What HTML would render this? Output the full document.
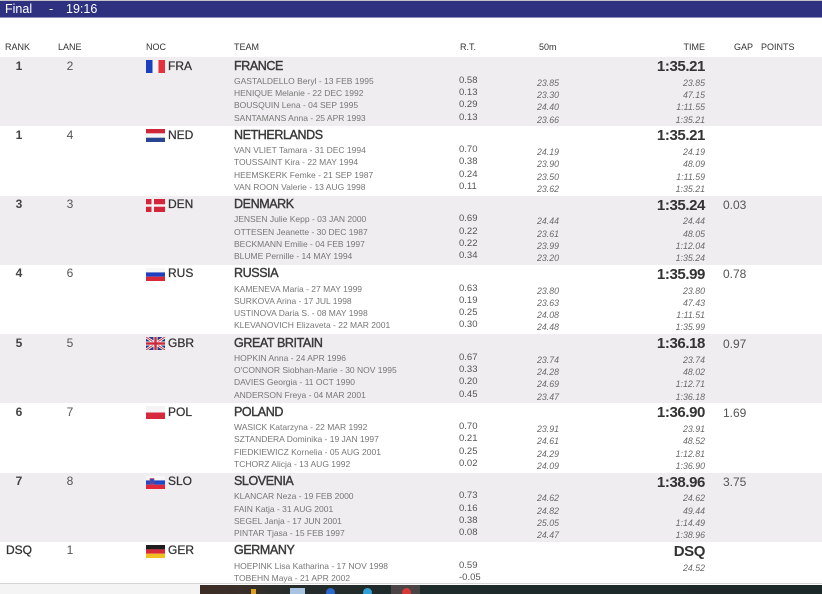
<!DOCTYPE html>
<html><head><meta charset="utf-8">
<style>
*{margin:0;padding:0;box-sizing:border-box}
html,body{width:822px;height:594px;overflow:hidden;background:#fff;font-family:"Liberation Sans",Arial,sans-serif;position:relative}
.abs{position:absolute;white-space:nowrap}
#topline{position:absolute;left:0;top:0;width:822px;height:1px;background:#c4c4c8}
#bar{position:absolute;left:0;top:1px;width:822px;height:17px;background:#2e3080;border-bottom:1px solid #8e90c4}
#bar .abs{color:#fff;font-size:12.5px;line-height:17px;top:0}
.hd{position:absolute;top:40px;line-height:14px;font-size:9px;color:#333;white-space:nowrap}
.row{position:absolute;left:0;width:822px;height:69.25px}
.g{background:#efedef}
.row div{position:absolute;white-space:nowrap}
.rk{left:5px;width:28px;text-align:center;top:1.5px;line-height:14px;font-size:12px;font-weight:bold;color:#444}
.ln{left:56px;width:28px;text-align:center;top:1.5px;line-height:14px;font-size:12px;color:#555}
.row svg{position:absolute;left:146px;top:3px}
.noc{left:168px;top:1.5px;line-height:14px;font-size:12px;color:#333;-webkit-text-stroke:0.25px #333}
.tm{left:234px;top:1.5px;line-height:14px;font-size:12.5px;color:#3a3a3a;-webkit-text-stroke:0.4px #3a3a3a;letter-spacing:-0.4px}
.t{right:117px;top:2px;line-height:16px;font-size:15px;font-weight:bold;color:#333;letter-spacing:-0.4px;text-align:right}
.gp{left:723px;top:2.5px;line-height:14px;font-size:12px;color:#555}
.m{left:234px;top:17.85px;line-height:12.3px;font-size:8.5px;color:#777}
.rt{left:459px;top:17.85px;line-height:12.3px;font-size:9.5px;color:#555}
.sp{left:537px;top:19.85px;line-height:12.3px;font-size:8.8px;font-style:italic;color:#6a6a6a}
.cu{right:117px;top:19.85px;line-height:12.3px;font-size:8.8px;font-style:italic;color:#6a6a6a;text-align:right}
#botline{position:absolute;left:0;top:583px;width:822px;height:1px;background:#d6d6d6}
#botleft{position:absolute;left:0;top:584px;width:200px;height:10px;background:#f4f4f4}
#task{position:absolute;left:200px;top:585px;width:622px;height:9px;background:linear-gradient(to right,#3c2e26 0,#3a2f29 40px,#252c2b 90px,#1f2a2a 200px,#1d2828 100%)}
</style></head><body>
<div id="topline"></div>
<div id="bar">
  <div class="abs" style="left:5px">Final</div>
  <div class="abs" style="left:49px">-</div>
  <div class="abs" style="left:66px">19:16</div>
</div>

<div class="hd" style="left:5px">RANK</div>
<div class="hd" style="left:58px">LANE</div>
<div class="hd" style="left:146px">NOC</div>
<div class="hd" style="left:234px">TEAM</div>
<div class="hd" style="left:460px">R.T.</div>
<div class="hd" style="left:539px">50m</div>
<div class="hd" style="right:117px">TIME</div>
<div class="hd" style="left:734px">GAP</div>
<div class="hd" style="left:761px">POINTS</div>

<!-- FRANCE -->
<div class="row g" style="top:57px">
  <div class="rk">1</div><div class="ln">2</div>
  <svg width="19" height="13"><rect width="6.5" height="13" fill="#1c3fc0"/><rect x="6.5" width="6" height="13" fill="#f4f4f6"/><rect x="12.5" width="6.5" height="13" fill="#e6303c"/></svg>
  <div class="noc">FRA</div>
  <div class="tm">FRANCE</div>
  <div class="t">1:35.21</div>
  <div class="m">GASTALDELLO Beryl - 13 FEB 1995<br>HENIQUE Melanie - 22 DEC 1992<br>BOUSQUIN Lena - 04 SEP 1995<br>SANTAMANS Anna - 25 APR 1993</div>
  <div class="rt">0.58<br>0.13<br>0.29<br>0.13</div>
  <div class="sp">23.85<br>23.30<br>24.40<br>23.66</div>
  <div class="cu">23.85<br>47.15<br>1:11.55<br>1:35.21</div>
</div>

<!-- NETHERLANDS -->
<div class="row" style="top:126.25px">
  <div class="rk">1</div><div class="ln">4</div>
  <svg width="19" height="13"><rect width="19" height="4.4" fill="#d0263a"/><rect y="4.4" width="19" height="4.3" fill="#f6f6f6"/><rect y="8.7" width="19" height="4.3" fill="#2a4590"/></svg>
  <div class="noc">NED</div>
  <div class="tm">NETHERLANDS</div>
  <div class="t">1:35.21</div>
  <div class="m">VAN VLIET Tamara - 31 DEC 1994<br>TOUSSAINT Kira - 22 MAY 1994<br>HEEMSKERK Femke - 21 SEP 1987<br>VAN ROON Valerie - 13 AUG 1998</div>
  <div class="rt">0.70<br>0.38<br>0.24<br>0.11</div>
  <div class="sp">24.19<br>23.90<br>23.50<br>23.62</div>
  <div class="cu">24.19<br>48.09<br>1:11.59<br>1:35.21</div>
</div>

<!-- DENMARK -->
<div class="row g" style="top:195.5px">
  <div class="rk">3</div><div class="ln">3</div>
  <svg width="19" height="13"><rect width="19" height="13" fill="#d6243a"/><rect x="5.5" width="2.5" height="13" fill="#f6f6f6"/><rect y="5.3" width="19" height="2.4" fill="#f6f6f6"/></svg>
  <div class="noc">DEN</div>
  <div class="tm">DENMARK</div>
  <div class="t">1:35.24</div>
  <div class="gp">0.03</div>
  <div class="m">JENSEN Julie Kepp - 03 JAN 2000<br>OTTESEN Jeanette - 30 DEC 1987<br>BECKMANN Emilie - 04 FEB 1997<br>BLUME Pernille - 14 MAY 1994</div>
  <div class="rt">0.69<br>0.22<br>0.22<br>0.34</div>
  <div class="sp">24.44<br>23.61<br>23.99<br>23.20</div>
  <div class="cu">24.44<br>48.05<br>1:12.04<br>1:35.24</div>
</div>

<!-- RUSSIA -->
<div class="row" style="top:264.75px">
  <div class="rk">4</div><div class="ln">6</div>
  <svg width="19" height="13"><rect width="19" height="4.4" fill="#f6f6f6"/><rect y="4.4" width="19" height="4.3" fill="#1f3fbf"/><rect y="8.7" width="19" height="4.3" fill="#d8283a"/></svg>
  <div class="noc">RUS</div>
  <div class="tm">RUSSIA</div>
  <div class="t">1:35.99</div>
  <div class="gp">0.78</div>
  <div class="m">KAMENEVA Maria - 27 MAY 1999<br>SURKOVA Arina - 17 JUL 1998<br>USTINOVA Daria S. - 08 MAY 1998<br>KLEVANOVICH Elizaveta - 22 MAR 2001</div>
  <div class="rt">0.63<br>0.19<br>0.25<br>0.30</div>
  <div class="sp">23.80<br>23.63<br>24.08<br>24.48</div>
  <div class="cu">23.80<br>47.43<br>1:11.51<br>1:35.99</div>
</div>

<!-- GREAT BRITAIN -->
<div class="row g" style="top:334px">
  <div class="rk">5</div><div class="ln">5</div>
  <svg width="19" height="13"><rect width="19" height="13" fill="#283a84"/><path d="M0 0L19 13M19 0L0 13" stroke="#f4f4f4" stroke-width="2.6"/><path d="M0 0L19 13M19 0L0 13" stroke="#d0283a" stroke-width="0.9"/><rect x="7.5" width="4" height="13" fill="#f4f4f4"/><rect y="4.5" width="19" height="4" fill="#f4f4f4"/><rect x="8.3" width="2.4" height="13" fill="#d0283a"/><rect y="5.3" width="19" height="2.4" fill="#d0283a"/></svg>
  <div class="noc">GBR</div>
  <div class="tm">GREAT BRITAIN</div>
  <div class="t">1:36.18</div>
  <div class="gp">0.97</div>
  <div class="m">HOPKIN Anna - 24 APR 1996<br>O'CONNOR Siobhan-Marie - 30 NOV 1995<br>DAVIES Georgia - 11 OCT 1990<br>ANDERSON Freya - 04 MAR 2001</div>
  <div class="rt">0.67<br>0.33<br>0.20<br>0.45</div>
  <div class="sp">23.74<br>24.28<br>24.69<br>23.47</div>
  <div class="cu">23.74<br>48.02<br>1:12.71<br>1:36.18</div>
</div>

<!-- POLAND -->
<div class="row" style="top:403.25px">
  <div class="rk">6</div><div class="ln">7</div>
  <svg width="19" height="13"><rect width="19" height="6.5" fill="#f4f4f4"/><rect y="6.5" width="19" height="6.5" fill="#d8283e"/></svg>
  <div class="noc">POL</div>
  <div class="tm">POLAND</div>
  <div class="t">1:36.90</div>
  <div class="gp">1.69</div>
  <div class="m">WASICK Katarzyna - 22 MAR 1992<br>SZTANDERA Dominika - 19 JAN 1997<br>FIEDKIEWICZ Kornelia - 05 AUG 2001<br>TCHORZ Alicja - 13 AUG 1992</div>
  <div class="rt">0.70<br>0.21<br>0.25<br>0.02</div>
  <div class="sp">23.91<br>24.61<br>24.29<br>24.09</div>
  <div class="cu">23.91<br>48.52<br>1:12.81<br>1:36.90</div>
</div>

<!-- SLOVENIA -->
<div class="row g" style="top:472.5px">
  <div class="rk">7</div><div class="ln">8</div>
  <svg width="19" height="13"><rect width="19" height="4.4" fill="#f6f6f6"/><rect y="4.4" width="19" height="4.3" fill="#1e48c8"/><rect y="8.7" width="19" height="4.3" fill="#e0283a"/><path d="M4 2.5h4v4.5l-2 1.5l-2-1.5z" fill="#2a50c8" stroke="#d83040" stroke-width="0.6"/></svg>
  <div class="noc">SLO</div>
  <div class="tm">SLOVENIA</div>
  <div class="t">1:38.96</div>
  <div class="gp">3.75</div>
  <div class="m">KLANCAR Neza - 19 FEB 2000<br>FAIN Katja - 31 AUG 2001<br>SEGEL Janja - 17 JUN 2001<br>PINTAR Tjasa - 15 FEB 1997</div>
  <div class="rt">0.73<br>0.16<br>0.38<br>0.08</div>
  <div class="sp">24.62<br>24.82<br>25.05<br>24.47</div>
  <div class="cu">24.62<br>49.44<br>1:14.49<br>1:38.96</div>
</div>

<!-- GERMANY -->
<div class="row" style="top:541.75px;height:41px">
  <div class="rk" style="font-weight:normal;color:#333;-webkit-text-stroke:0.3px #333">DSQ</div><div class="ln">1</div>
  <svg width="19" height="13"><rect width="19" height="4.4" fill="#1e1e1e"/><rect y="4.4" width="19" height="4.3" fill="#d8283a"/><rect y="8.7" width="19" height="4.3" fill="#f0c020"/></svg>
  <div class="noc">GER</div>
  <div class="tm">GERMANY</div>
  <div class="t">DSQ</div>
  <div class="m">HOEPINK Lisa Katharina - 17 NOV 1998<br>TOBEHN Maya - 21 APR 2002</div>
  <div class="rt">0.59<br>-0.05</div>
  <div class="cu">24.52</div>
</div>

<div id="botline"></div>
<div id="botleft"></div>
<div id="task">
  <div class="abs" style="left:51px;top:4px;width:5px;height:5px;background:#e0a020"></div>
  <div class="abs" style="left:90px;top:3px;width:15px;height:6px;background:#a8c4e0"></div>
  <div class="abs" style="left:126px;top:3px;width:9px;height:9px;border-radius:50%;background:#2a6ad0"></div>
  <div class="abs" style="left:163px;top:3px;width:9px;height:9px;border-radius:50%;background:#30a0d8"></div>
  <div class="abs" style="left:191px;top:0;width:29px;height:9px;background:#4a4444"></div>
  <div class="abs" style="left:202px;top:3px;width:9px;height:9px;border-radius:50%;background:#d83838"></div>
</div>
</body></html>
